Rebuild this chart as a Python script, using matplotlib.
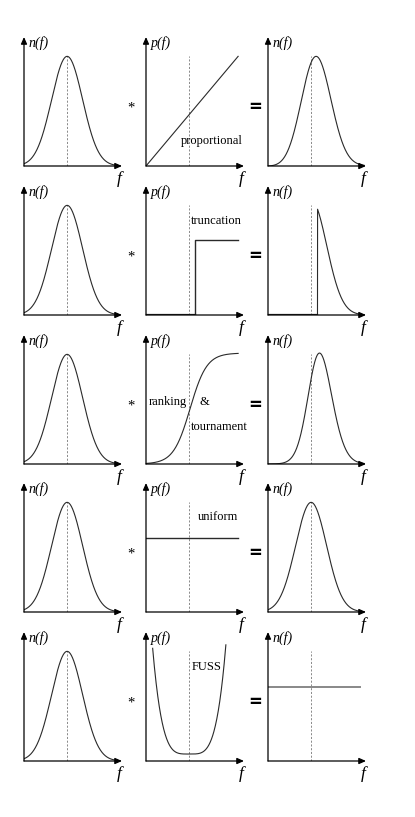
import numpy as np
import matplotlib
matplotlib.use("Agg")
import matplotlib.pyplot as plt

# ---------------- data (axis units 0..1) ----------------
row_labels = ["proportional", "truncation", "ranking & tournament", "uniform", "FUSS"]

# input fitness distribution n(f): gaussian bump
n_peak = 0.85
n_center = 0.44
n_sigma = 0.158

# dashed reference line (mean fitness)
mean_x = 0.44
mean_top = 0.85

# proportional selection: straight line from origin
prop_end_x = 0.94
prop_end_y = 0.85

# truncation selection: step
trunc_threshold = 0.505
trunc_level = 0.58
trunc_end_x = 0.94

# ranking & tournament: sigmoid
rank_center = 0.45
rank_scale = 0.085
rank_top = 0.86

# uniform selection: flat
uniform_level = 0.57
uniform_end_x = 0.94

# FUSS: U-shape
fuss_floor = 0.054
fuss_center = 0.44
fuss_coef = 42.8
fuss_x_range = (0.068, 0.815)

# resulting distributions: peak heights after selection
result_peaks = [0.85, 0.82, 0.86, 0.85]
fuss_result_level = 0.576
fuss_result_end_x = 0.94

curve_end_x = 0.98

# ---------------- layout (pixels) ----------------
W, H = 415, 817
col_left = [24, 146, 268]
row_bottom = [166, 315, 464, 612, 761]
ax_w, ax_h = 98, 129

fig = plt.figure(figsize=(W / 100, H / 100), dpi=100)
SERIF = "Liberation Serif"
CURVE = dict(color="#2a2a2a", lw=0.8)
DASH = dict(color="#777777", lw=0.6, dashes=(2.5, 2.0))
LBL = 9.0

def make_ax(r, c):
    l = col_left[c] / W
    b = 1 - row_bottom[r] / H
    ax = fig.add_axes([l, b, ax_w / W, ax_h / H])
    ax.set_xlim(0, 1)
    ax.set_ylim(0, 1)
    ax.axis("off")
    ap = dict(arrowstyle="-|>,head_length=0.45,head_width=0.2", lw=0.9,
              color="black", shrinkA=0, shrinkB=0, mutation_scale=9)
    ax.annotate("", xy=(1.0, 0), xytext=(0, 0), arrowprops=ap,
                annotation_clip=False)
    ax.annotate("", xy=(0, 1.0), xytext=(0, 0), arrowprops=ap,
                annotation_clip=False)
    name = "p(f)" if c == 1 else "n(f)"
    ax.text(0.05, 0.95, name, fontsize=10, family=SERIF, style="italic",
            ha="left", va="center")
    ax.text(0.975, -0.1, "f", fontsize=12.5, family=SERIF, style="italic",
            ha="center", va="center", clip_on=False)
    ax.plot([mean_x, mean_x], [0, mean_top], **DASH)
    return ax

x = np.linspace(0, curve_end_x, 400)
n_vals = n_peak * np.exp(-(x - n_center) ** 2 / (2 * n_sigma ** 2))

def sel_prop(xx):
    return prop_end_y / prop_end_x * xx

def sel_trunc(xx):
    return np.where(xx >= trunc_threshold, trunc_level, 0.0)

def sel_rank(xx):
    return rank_top / (1 + np.exp(-(xx - rank_center) / rank_scale))

for r in range(5):
    # left column: n(f)
    ax = make_ax(r, 0)
    ax.plot(x, n_vals, **CURVE)

    # middle column: p(f)
    ax = make_ax(r, 1)
    if r == 0:
        xs = np.linspace(0, prop_end_x, 50)
        ax.plot(xs, sel_prop(xs), **CURVE)
        ax.text(0.985, 0.19, "proportional", fontsize=LBL, family=SERIF,
                ha="right", va="center")
    elif r == 1:
        ax.plot([0, trunc_threshold], [0, 0], color="#2a2a2a", lw=1.6)
        ax.plot([trunc_threshold, trunc_threshold, trunc_end_x],
                [0, trunc_level, trunc_level], color="#2a2a2a", lw=1.0)
        ax.text(0.455, 0.73, "truncation", fontsize=LBL, family=SERIF,
                ha="left", va="center")
    elif r == 2:
        xs = np.linspace(0, prop_end_x, 300)
        ax.plot(xs, sel_rank(xs), **CURVE)
        ax.text(0.03, 0.48, "ranking", fontsize=LBL, family=SERIF,
                ha="left", va="center")
        ax.text(0.595, 0.48, "&", fontsize=LBL, family=SERIF,
                ha="center", va="center")
        ax.text(0.455, 0.29, "tournament", fontsize=LBL, family=SERIF,
                ha="left", va="center")
    elif r == 3:
        ax.plot([0, uniform_end_x], [uniform_level, uniform_level],
                color="#2a2a2a", lw=1.0)
        ax.text(0.53, 0.74, "uniform", fontsize=LBL, family=SERIF,
                ha="left", va="center")
    else:
        xs = np.linspace(fuss_x_range[0], fuss_x_range[1], 300)
        ax.plot(xs, fuss_floor + fuss_coef * (xs - fuss_center) ** 4, **CURVE)
        ax.text(0.47, 0.73, "FUSS", fontsize=LBL, family=SERIF,
                ha="left", va="center")

    # operators
    ax.text(-0.153, 0.45, "*", fontsize=10.5, family=SERIF, ha="center",
            va="center", transform=ax.transAxes)
    ax.text(1.112, 0.455, "=", fontsize=12, family="DejaVu Sans",
            weight="bold", ha="center", va="center", transform=ax.transAxes)

    # right column: result
    ax = make_ax(r, 2)
    if r == 0:
        y = n_vals * sel_prop(x)
        ax.plot(x, y / y.max() * result_peaks[0], **CURVE)
    elif r == 1:
        ax.plot([0, trunc_threshold], [0, 0], color="#2a2a2a", lw=1.6)
        xs = x[x >= trunc_threshold]
        y = n_vals[x >= trunc_threshold]
        y = y / y.max() * result_peaks[1]
        ax.plot(np.r_[trunc_threshold, xs], np.r_[0, y], **CURVE)
    elif r == 2:
        y = n_vals * sel_rank(x)
        ax.plot(x, y / y.max() * result_peaks[2], **CURVE)
    elif r == 3:
        ax.plot(x, n_vals / n_vals.max() * result_peaks[3], **CURVE)
    else:
        ax.plot([0, fuss_result_end_x], [fuss_result_level, fuss_result_level],
                color="#888888", lw=1.4)

fig.savefig("out.png", dpi=100)
